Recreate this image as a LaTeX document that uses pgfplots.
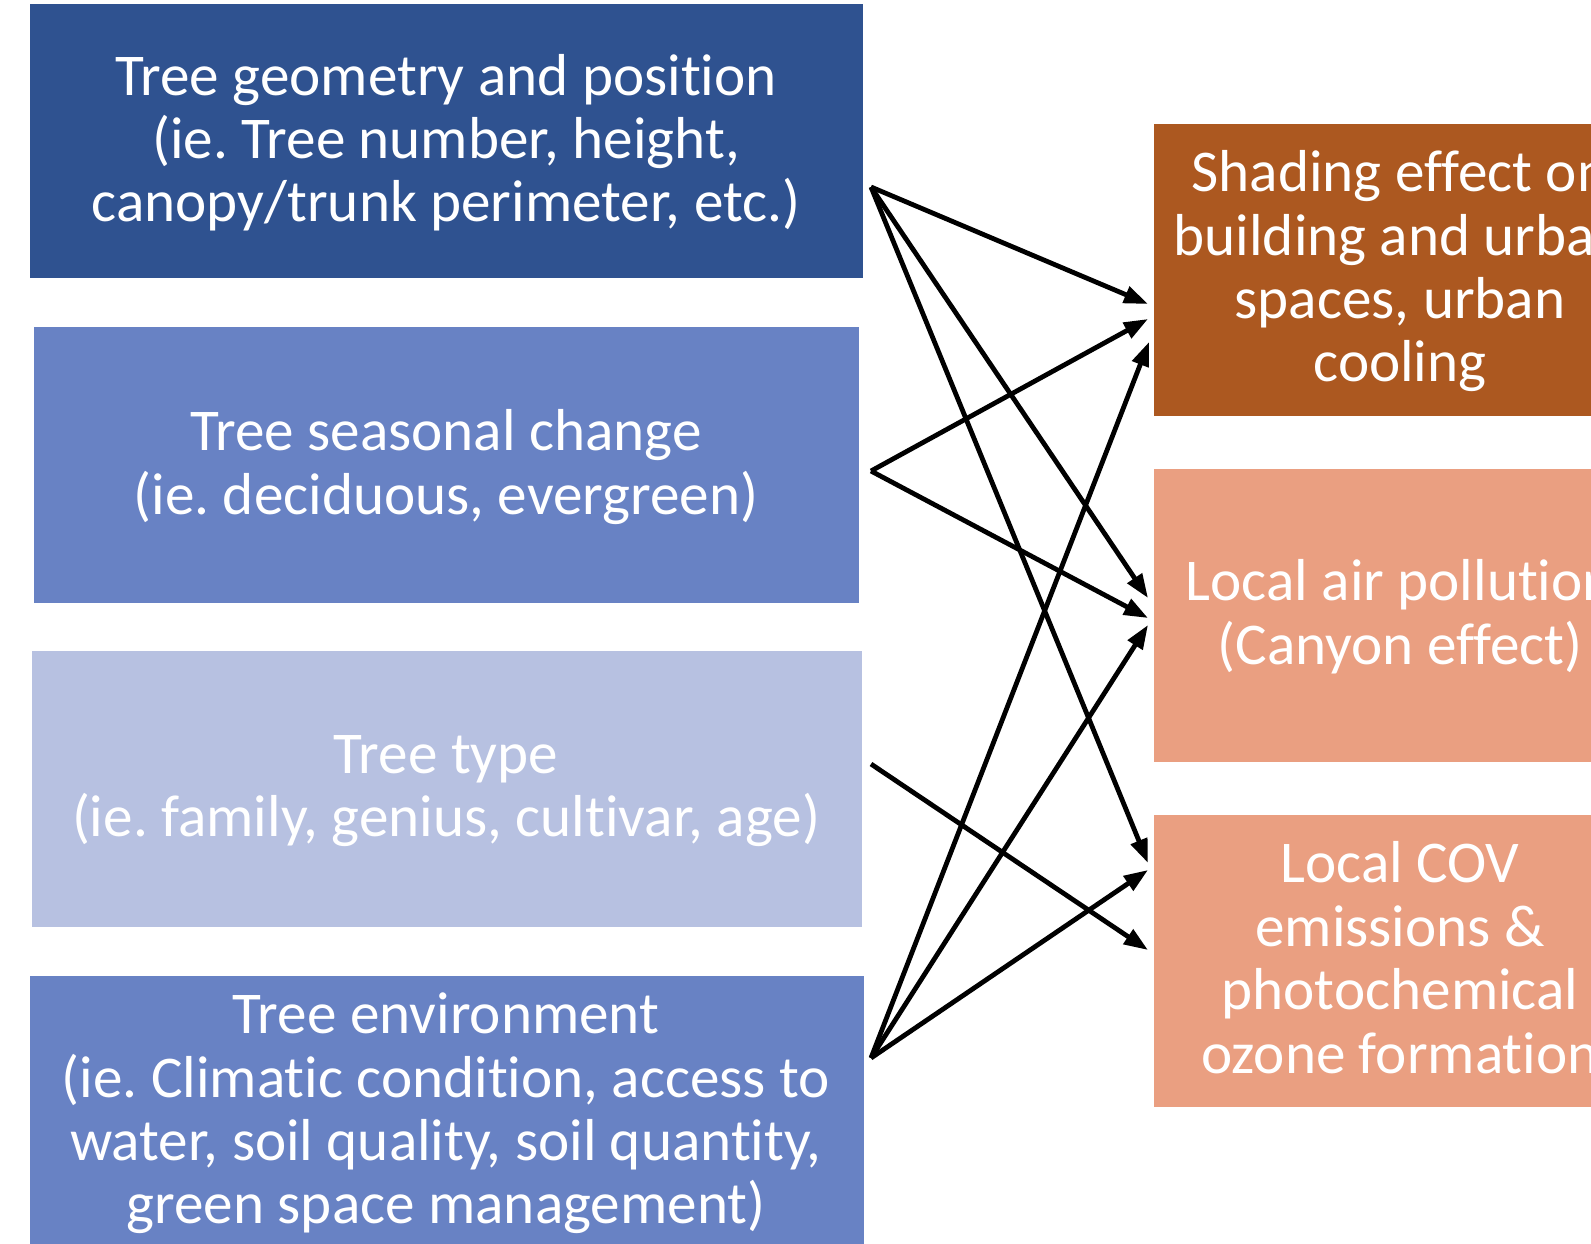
\documentclass[border=0pt]{standalone}
\usepackage{pgfplots}
\pgfplotsset{compat=1.18}
\usepackage{fontspec}
\setmainfont{Carlito}[Ligatures=NoCommon]
\frenchspacing
\usetikzlibrary{arrows.meta}
\definecolor{dblue}{RGB}{47,82,144}
\definecolor{mblue}{RGB}{104,130,196}
\definecolor{lblue}{RGB}{183,193,225}
\definecolor{orng}{RGB}{172,88,32}
\definecolor{pinkb}{RGB}{234,159,129}
\tikzset{txt/.style={anchor=base,inner sep=0pt,text=white,font=\fontsize{29.6}{34}\selectfont}}
\pgfplotsset{arr/.style={black,line width=2.4pt,-{Triangle[length=12pt,width=8.5pt]}}}
\begin{document}
\begin{tikzpicture}
\begin{axis}[width=795.5pt,height=621.5pt,scale only axis,hide axis,
  xmin=0,xmax=1591,ymin=0,ymax=1243,y dir=reverse,clip=true,no markers]
% boxes
\addplot[fill=dblue,draw=none] coordinates {(30,4)(863,4)(863,278)(30,278)} -- cycle;
\addplot[fill=mblue,draw=none] coordinates {(34,327)(859,327)(859,603)(34,603)} -- cycle;
\addplot[fill=lblue,draw=none] coordinates {(32,651)(862,651)(862,927)(32,927)} -- cycle;
\addplot[fill=mblue,draw=none] coordinates {(30,976)(864,976)(864,1260)(30,1260)} -- cycle;
\addplot[fill=orng,draw=none] coordinates {(1154,124)(1660,124)(1660,416)(1154,416)} -- cycle;
\addplot[fill=pinkb,draw=none] coordinates {(1154,469)(1660,469)(1660,762)(1154,762)} -- cycle;
\addplot[fill=pinkb,draw=none] coordinates {(1154,815)(1660,815)(1660,1107)(1154,1107)} -- cycle;
% arrows
\addplot[arr] coordinates {(871,187)(1148,304)};
\addplot[arr] coordinates {(871,187)(1148,598)};
\addplot[arr] coordinates {(871,187)(1148,863)};
\addplot[arr] coordinates {(871,471)(1148,319)};
\addplot[arr] coordinates {(871,471)(1148,618)};
\addplot[arr] coordinates {(871,764)(1148,950)};
\addplot[arr] coordinates {(871,1058)(1149,342)};
\addplot[arr] coordinates {(871,1058)(1148,625)};
\addplot[arr] coordinates {(871,1058)(1148,870)};
% texts left
\node[txt] at (axis cs:446,95) {Tree geometry and position};
\node[txt] at (axis cs:446,158) {(ie. Tree number, height,};
\node[txt] at (axis cs:446,221) {canopy/trunk perimeter, etc.)};
\node[txt] at (axis cs:446,450) {Tree seasonal change};
\node[txt] at (axis cs:446,514) {(ie. deciduous, evergreen)};
\node[txt] at (axis cs:446,773) {Tree type};
\node[txt] at (axis cs:446,836) {(ie. family, genius, cultivar, age)};
\node[txt] at (axis cs:446,1033) {Tree environment};
\node[txt] at (axis cs:446,1097) {(ie. Climatic condition, access to};
\node[txt] at (axis cs:446,1160) {water, soil quality, soil quantity,};
\node[txt] at (axis cs:446,1223) {green space management)};
% texts right
\node[txt] at (axis cs:1400,191) {Shading effect on};
\node[txt] at (axis cs:1400,255) {building and urban};
\node[txt] at (axis cs:1400,318) {spaces, urban};
\node[txt] at (axis cs:1400,381) {cooling};
\node[txt] at (axis cs:1400,600) {Local air pollution};
\node[txt] at (axis cs:1400,664) {(Canyon effect)};
\node[txt] at (axis cs:1400,882) {Local COV};
\node[txt] at (axis cs:1400,946) {emissions \&};
\node[txt] at (axis cs:1400,1009) {photochemical};
\node[txt] at (axis cs:1400,1073) {ozone formation};
\end{axis}
\pgfresetboundingbox
\path[use as bounding box] (current axis.south west) rectangle (current axis.north east);
\end{tikzpicture}
\end{document}
